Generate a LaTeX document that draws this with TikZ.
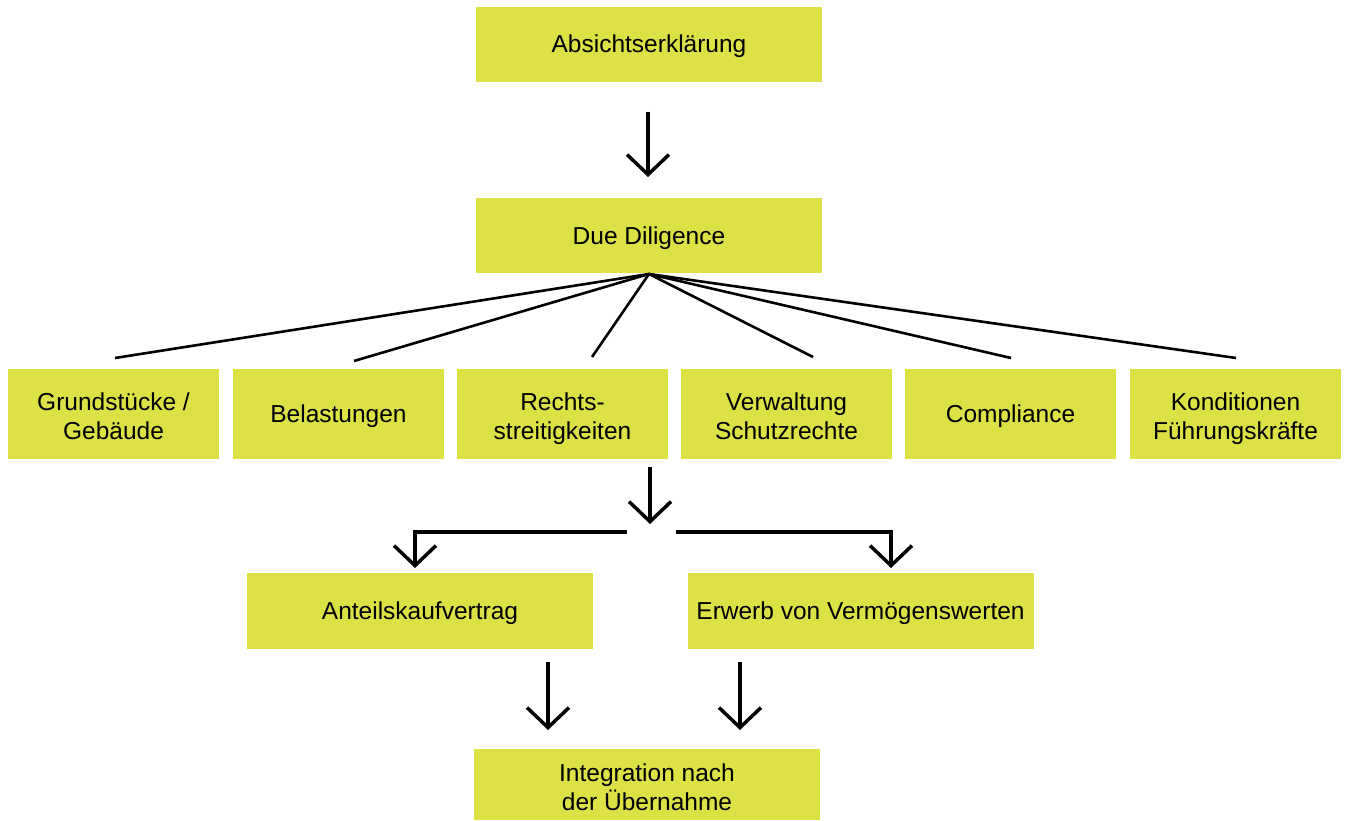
\documentclass[tikz,border=0pt]{standalone}
\usepackage{fontspec}
\setmainfont{Liberation Sans}
\usetikzlibrary{arrows.meta}
\definecolor{boxgreen}{RGB}{220,226,70}
\tikzset{
  box/.style={fill=boxgreen, minimum width=346pt, minimum height=75pt, inner sep=0pt, align=center,
    text height=17pt, text depth=0pt, font=\fontsize{24.5}{29}\selectfont},
  twoline/.style={text height=51pt},
  smallbox/.style={box, minimum width=211pt, minimum height=90pt},
  flow/.style={line width=3.5pt, -{Straight Barb[length=20pt,width=42pt,line cap=butt]}},
  fan/.style={line width=2.6pt}
}
\begin{document}
\begin{tikzpicture}[x=1pt,y=1pt,yscale=-1,xscale=1]
\useasboundingbox (0,0) rectangle (1347,821);
\node (loi) at (649,44.5) [box] {Absichtserklärung};
\node (dd) at (649,235.5) [box] {Due Diligence};
\node (gb) at (113.5,414) [smallbox, twoline] {Grundstücke /\\Gebäude};
\node (bel) at (338.5,414) [smallbox] {Belastungen};
\node (rs) at (562.5,414) [smallbox, twoline] {Rechts-\\streitigkeiten};
\node (vs) at (786.5,414) [smallbox, twoline] {Verwaltung\\Schutzrechte};
\node (comp) at (1010.5,414) [smallbox] {Compliance};
\node (kf) at (1235.5,414) [smallbox, twoline] {Konditionen\\Führungskräfte};
\node (akv) at (420,611) [box, minimum height=76pt] {Anteilskaufvertrag};
\node (evw) at (860.5,611) [box, minimum height=76pt] {Erwerb von Vermögenswerten};
\node (pmi) at (647,784.5) [box, twoline, minimum height=71pt] {Integration nach\\der Übernahme};
\coordinate (a1) at (648,112);
\coordinate (a2) at (648,177);
\draw[flow] (a1) -- (a2);
\coordinate (dd top) at (649,274);
\coordinate (f1) at (115,358);
\coordinate (f2) at (354,361);
\coordinate (f3) at (592,357);
\coordinate (f4) at (813,357);
\coordinate (f5) at (1011,358);
\coordinate (f6) at (1236,358);
\foreach \f in {f1,f2,f3,f4,f5,f6}
  \draw[fan] (dd top) -- (\f);
\coordinate (m1) at (650,467);
\coordinate (m2) at (650,524);
\draw[flow] (m1) -- (m2);
\coordinate (l1) at (627,532);
\coordinate (l2) at (415,532);
\coordinate (l3) at (415,568);
\draw[flow] (l1) -- (l2) -- (l3);
\coordinate (r1) at (676,532);
\coordinate (r2) at (891,532);
\coordinate (r3) at (891,568);
\draw[flow] (r1) -- (r2) -- (r3);
\coordinate (b1) at (548,662);
\coordinate (b2) at (548,730);
\draw[flow] (b1) -- (b2);
\coordinate (b3) at (740,662);
\coordinate (b4) at (740,730);
\draw[flow] (b3) -- (b4);
\end{tikzpicture}
\end{document}
